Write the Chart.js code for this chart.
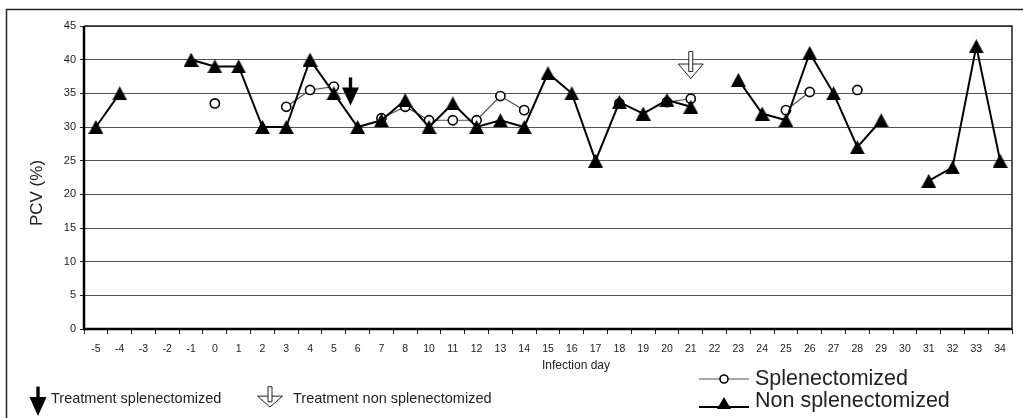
<!DOCTYPE html>
<html>
<head>
<meta charset="utf-8">
<script src="https://cdn.jsdelivr.net/npm/chart.js@4"></script>
<style>
html,body{margin:0;padding:0;background:#fff;}
#wrap{width:1023px;height:418px;position:relative;}
</style>
</head>
<body>
<div id="wrap"><canvas id="c" width="1023" height="418"></canvas></div>
<script>
const days = ['-5','-4','-3','-2','-1','0','1','2','3','4','5','6','7','8','10','11','12','13','14','15','16','17','18','19','20','21','22','23','24','25','26','27','28','29','30','31','32','33','34'];
const splenectomized = [null,null,null,null,null,33.5,null,null,33,35.5,36,null,31.3,33,31,31,31,34.6,32.5,null,null,null,33.5,null,33.7,34.2,null,null,null,32.5,35.2,null,35.5,null,null,null,null,null,null];
const nonSplenectomized = [30,35,null,null,40,39,39,30,30,40,35,30,31,34,30,33.5,30,31,30,38,35,25,33.7,32,34,33,null,37,32,31,41,35,27,31,null,22,24,42,25];
const yTicks = [0,5,10,15,20,25,30,35,40,45];
// treatment markers: day label, offset in category units, value at arrow tip
const treatSplenDay = '5', treatSplenOffset = 0.7, treatSplenTip = 33.2;
const treatNonDay = '21', treatNonOffset = 0, treatNonTip = 37.2;

const FONT = "'Liberation Sans', Arial, sans-serif";

function makeTriangle(w, h) {
  const c = document.createElement('canvas');
  c.width = w; c.height = h;
  const g = c.getContext('2d');
  g.fillStyle = '#000';
  g.beginPath();
  g.moveTo(w / 2, 0); g.lineTo(w, h); g.lineTo(0, h); g.closePath();
  g.fill();
  return c;
}
const triImg = makeTriangle(15, 14);

function filledArrow(ctx, x, tipY, s) {
  ctx.save();
  ctx.fillStyle = '#000';
  ctx.fillRect(x - 1.7, tipY - 28*s, 3.4, 12*s);
  ctx.beginPath();
  ctx.moveTo(x - 8.5, tipY - 18*s);
  ctx.lineTo(x + 8.5, tipY - 18*s);
  ctx.lineTo(x, tipY);
  ctx.closePath();
  ctx.fill();
  ctx.restore();
}
function hollowArrow(ctx, x, tipY, s) {
  ctx.save();
  ctx.strokeStyle = '#222';
  ctx.fillStyle = '#fff';
  ctx.lineWidth = 1;
  ctx.beginPath();
  ctx.moveTo(x - 12.5, tipY - 14.5*s);
  ctx.lineTo(x + 12.5, tipY - 14.5*s);
  ctx.lineTo(x, tipY);
  ctx.closePath();
  ctx.fill();
  ctx.stroke();
  ctx.beginPath();
  ctx.rect(x - 2, tipY - 27*s, 4, 20*s);
  ctx.fill();
  ctx.stroke();
  ctx.restore();
}

const decor = {
  id: 'decor',
  afterDraw(chart) {
    const ctx = chart.ctx, a = chart.chartArea;
    const xs = chart.scales.x, ys = chart.scales.y;
    ctx.save();
    // outer frame
    ctx.strokeStyle = '#222'; ctx.lineWidth = 1.5;
    ctx.beginPath();
    ctx.moveTo(6.5, 420); ctx.lineTo(6.5, 9.5); ctx.lineTo(1025, 9.5);
    ctx.stroke();
    // plot frame
    ctx.strokeStyle = '#222'; ctx.lineWidth = 1.5;
    ctx.beginPath();
    ctx.moveTo(a.left, a.top); ctx.lineTo(a.right, a.top); ctx.lineTo(a.right, a.bottom);
    ctx.stroke();
    ctx.lineWidth = 2.5; ctx.strokeStyle = '#000';
    ctx.beginPath();
    ctx.moveTo(a.left, a.top); ctx.lineTo(a.left, a.bottom); ctx.lineTo(a.right, a.bottom);
    ctx.stroke();
    // axis titles
    ctx.fillStyle = '#222';
    ctx.font = '17px ' + FONT;
    ctx.save();
    ctx.translate(37, 193);
    ctx.rotate(-Math.PI/2);
    ctx.textAlign = 'center'; ctx.textBaseline = 'middle';
    ctx.fillText('PCV (%)', 0, 0);
    ctx.restore();
    ctx.font = '12px ' + FONT;
    ctx.textAlign = 'center'; ctx.textBaseline = 'middle';
    ctx.fillText('Infection day', 576, 366);
    // treatment arrows
    const x1 = xs.getPixelForValue(days.indexOf(treatSplenDay) + treatSplenOffset);
    filledArrow(ctx, x1, ys.getPixelForValue(treatSplenTip), 1);
    const x2 = xs.getPixelForValue(days.indexOf(treatNonDay) + treatNonOffset);
    hollowArrow(ctx, x2, ys.getPixelForValue(treatNonTip), 1);
    // bottom-left legend
    filledArrow(ctx, 38, 416, 1.05);
    ctx.fillStyle = '#222';
    ctx.font = '14.5px ' + FONT;
    ctx.textAlign = 'left'; ctx.textBaseline = 'middle';
    ctx.fillText('Treatment splenectomized', 51, 399);
    hollowArrow(ctx, 270, 407, 0.75);
    ctx.fillStyle = '#222';
    ctx.fillText('Treatment non splenectomized', 293, 399);
    // series legend
    ctx.lineWidth = 1.2; ctx.strokeStyle = '#4b4a80';
    ctx.beginPath(); ctx.moveTo(699, 379); ctx.lineTo(749, 379); ctx.stroke();
    ctx.beginPath(); ctx.arc(724, 379, 4, 0, Math.PI*2);
    ctx.fillStyle = '#fff'; ctx.fill(); ctx.strokeStyle = '#000'; ctx.lineWidth = 1.6; ctx.stroke();
    ctx.lineWidth = 2; ctx.strokeStyle = '#000';
    ctx.beginPath(); ctx.moveTo(699, 407); ctx.lineTo(749, 407); ctx.stroke();
    ctx.fillStyle = '#000';
    ctx.beginPath(); ctx.moveTo(724, 397); ctx.lineTo(731, 409); ctx.lineTo(717, 409); ctx.closePath(); ctx.fill();
    ctx.fillStyle = '#222';
    ctx.font = '21.5px ' + FONT;
    ctx.textBaseline = 'alphabetic';
    ctx.fillText('Splenectomized', 755, 385);
    ctx.fillText('Non splenectomized', 755, 407);
    ctx.restore();
  }
};

new Chart(document.getElementById('c'), {
  type: 'line',
  data: {
    labels: days,
    datasets: [
      {
        label: 'Non splenectomized',
        data: nonSplenectomized,
        borderColor: '#000',
        backgroundColor: '#000',
        borderWidth: 2,
        pointStyle: triImg,
        pointRadius: 7,
        spanGaps: false,
        tension: 0,
        order: 1
      },
      {
        label: 'Splenectomized',
        data: splenectomized,
        borderColor: '#4b4a80',
        borderWidth: 1.2,
        pointStyle: 'circle',
        pointRadius: 4.6,
        pointBorderWidth: 1.6,
        pointBorderColor: '#000',
        pointBackgroundColor: '#fff',
        spanGaps: false,
        tension: 0,
        order: 2
      }
    ]
  },
  options: {
    responsive: false,
    animation: false,
    events: [],
    layout: { padding: { left: 0, top: 26, right: 11, bottom: 0 } },
    plugins: { legend: { display: false }, tooltip: { enabled: false }, title: { display: false } },
    scales: {
      x: {
        type: 'category',
        offset: true,
        grid: { offset: true, drawOnChartArea: false, drawTicks: true, tickLength: 5, color: '#222', lineWidth: 1 },
        border: { display: false },
        ticks: { autoSkip: false, maxRotation: 0, minRotation: 0, padding: 9, color: '#222', font: { family: FONT, size: 10.5 } },
        afterFit(s) { s.height = 89; }
      },
      y: {
        min: 0, max: 45,
        afterBuildTicks(s) { s.ticks = yTicks.map(v => ({ value: v })); },
        grid: { color: '#555', lineWidth: 1, drawTicks: true, tickLength: 4, tickColor: '#222' },
        border: { display: false },
        ticks: { padding: 4, color: '#222', font: { family: FONT, size: 11 } },
        afterFit(s) { s.width = 84; }
      }
    }
  },
  plugins: [decor]
});
</script>
</body>
</html>
